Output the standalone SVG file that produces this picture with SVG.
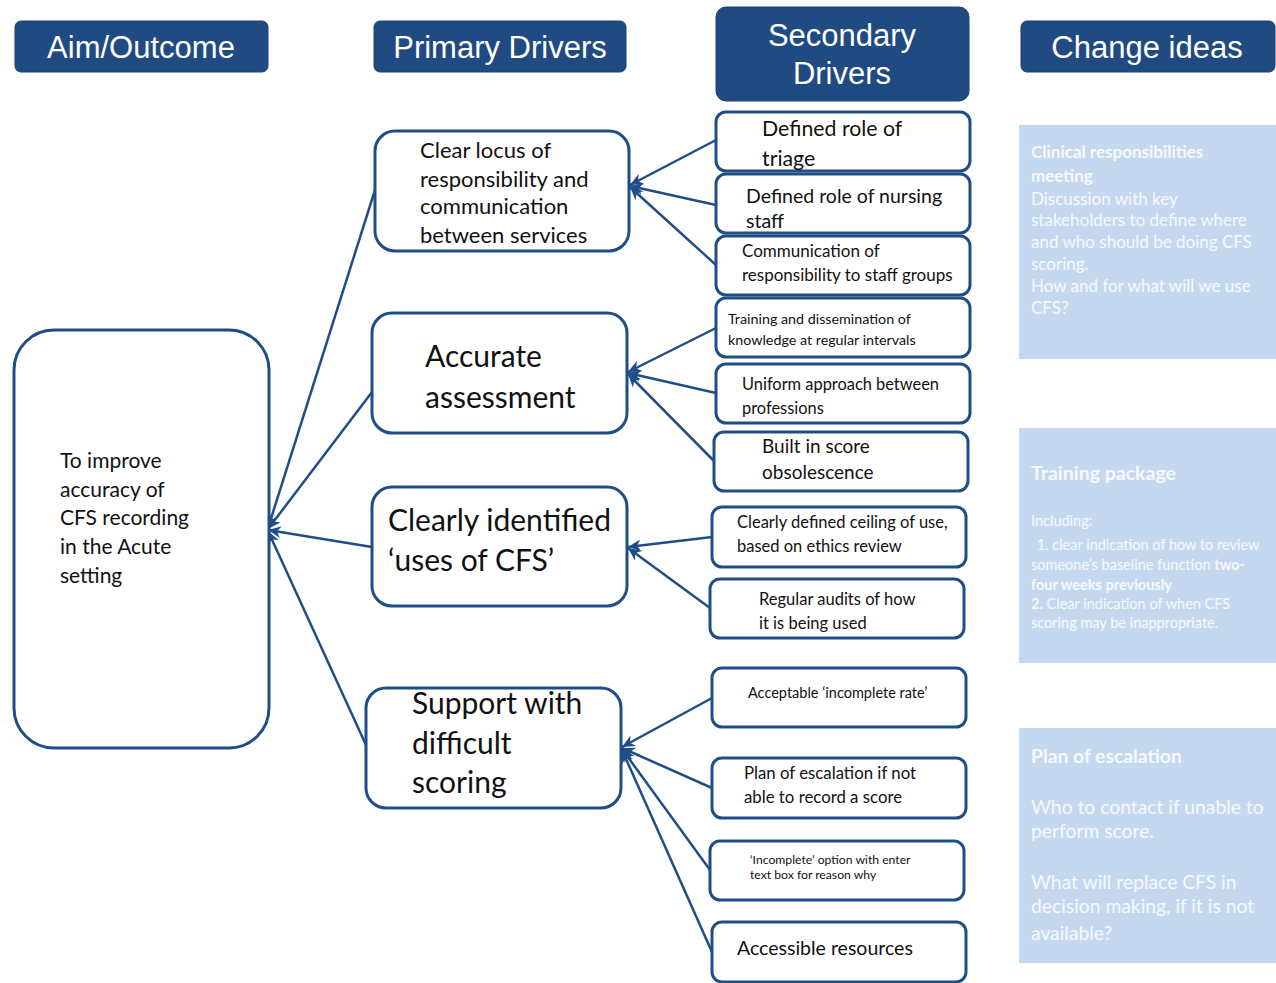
<svg xmlns="http://www.w3.org/2000/svg" width="1276" height="983" viewBox="0 0 1276 983">
<defs>
<style>
.hdr{fill:#1f4a82;stroke:#1a4070;stroke-width:1}
.ht{fill:#fff;font-family:"Liberation Sans",Arial,sans-serif;font-size:31px;text-anchor:middle}
.box{fill:#fff;stroke:#1f4e87;stroke-width:3}
.t{fill:#111;font-family:Lato,"Open Sans",sans-serif}
.ci{fill:#c6d8f0}
.cit{fill:#f5f8fd;font-family:Lato,"Open Sans",sans-serif}
.b{font-weight:bold}
.con{stroke:#1f4e87;stroke-width:2.5;fill:none;marker-end:url(#ah)}
</style>
<marker id="ah" markerUnits="userSpaceOnUse" markerWidth="14" markerHeight="14" refX="13" refY="7" orient="auto">
<path d="M0,1 L13,7 L0,13 L4,7 z" fill="#1f4e87"/>
</marker>
</defs>
<rect width="1276" height="983" fill="#fff"/>

<g id="hdr-aim"><rect class="hdr" x="15" y="21" width="253" height="51" rx="6"/><text class="ht" x="141" y="58">Aim/Outcome</text></g>
<g id="hdr-primary"><rect class="hdr" x="374" y="21" width="252" height="51" rx="6"/><text class="ht" x="500" y="58">Primary Drivers</text></g>
<g id="hdr-secondary"><rect class="hdr" x="716" y="7" width="253" height="94" rx="10"/><text class="ht" x="842" y="46">Secondary</text><text class="ht" x="842" y="84">Drivers</text></g>
<g id="hdr-change"><rect class="hdr" x="1021" y="21" width="254" height="51" rx="6"/><text class="ht" x="1147" y="58">Change ideas</text></g>

<g id="connectors">
<line class="con" x1="375" y1="190" x2="268" y2="528"/>
<line class="con" x1="372" y1="392" x2="268" y2="529"/>
<line class="con" x1="372" y1="547" x2="268" y2="530"/>
<line class="con" x1="366" y1="745" x2="268" y2="531"/>
<line class="con" x1="716" y1="140" x2="630" y2="185"/>
<line class="con" x1="716" y1="205" x2="630" y2="186"/>
<line class="con" x1="716" y1="265" x2="630" y2="187"/>
<line class="con" x1="716" y1="328" x2="628" y2="372"/>
<line class="con" x1="716" y1="393" x2="628" y2="373"/>
<line class="con" x1="714" y1="461" x2="628" y2="374"/>
<line class="con" x1="712" y1="537" x2="628" y2="547"/>
<line class="con" x1="710" y1="608" x2="628" y2="548"/>
<line class="con" x1="712" y1="698" x2="622" y2="747"/>
<line class="con" x1="712" y1="788" x2="622" y2="748"/>
<line class="con" x1="710" y1="870" x2="622" y2="749"/>
<line class="con" x1="712" y1="952" x2="622" y2="750"/>
</g>

<g id="aim"><rect class="box" x="14" y="330" width="255" height="418" rx="40"/>
<text class="t" font-size="21"><tspan x="60" y="468">To improve</tspan><tspan x="60" y="497">accuracy of</tspan><tspan x="60" y="525">CFS recording</tspan><tspan x="60" y="554">in the Acute</tspan><tspan x="60" y="583">setting</tspan></text></g>

<g id="p1"><rect class="box" x="375" y="131" width="254" height="120" rx="20"/>
<text class="t" font-size="22"><tspan x="420" y="158">Clear locus of</tspan><tspan x="420" y="187">responsibility and</tspan><tspan x="420" y="214">communication</tspan><tspan x="420" y="243">between services</tspan></text></g>
<g id="p2"><rect class="box" x="372" y="313" width="255" height="120" rx="20"/>
<text class="t" font-size="30"><tspan x="425" y="367">Accurate</tspan><tspan x="425" y="408">assessment</tspan></text></g>
<g id="p3"><rect class="box" x="372" y="487" width="255" height="119" rx="20"/>
<text class="t" font-size="30"><tspan x="388" y="531">Clearly identified</tspan><tspan x="388" y="571">‘uses of CFS’</tspan></text></g>
<g id="p4"><rect class="box" x="366" y="688" width="255" height="120" rx="20"/>
<text class="t" font-size="30"><tspan x="412" y="714">Support with</tspan><tspan x="412" y="754">difficult</tspan><tspan x="412" y="793">scoring</tspan></text></g>

<g id="s1"><rect class="box" x="716" y="112" width="254" height="59" rx="10"/>
<text class="t" font-size="21.3"><tspan x="762" y="136">Defined role of</tspan><tspan x="762" y="166">triage</tspan></text></g>
<g id="s2"><rect class="box" x="716" y="174" width="254" height="59" rx="10"/>
<text class="t" font-size="19.5"><tspan x="746" y="203">Defined role of nursing</tspan><tspan x="746" y="228">staff</tspan></text></g>
<g id="s3"><rect class="box" x="716" y="236" width="254" height="59" rx="10"/>
<text class="t" font-size="17"><tspan x="742" y="257">Communication of</tspan><tspan x="742" y="281">responsibility to staff groups</tspan></text></g>
<g id="s4"><rect class="box" x="716" y="298" width="254" height="59" rx="10"/>
<text class="t" font-size="14.3"><tspan x="728" y="324">Training and dissemination of</tspan><tspan x="728" y="345">knowledge at regular intervals</tspan></text></g>
<g id="s5"><rect class="box" x="716" y="364" width="254" height="59" rx="10"/>
<text class="t" font-size="16.4"><tspan x="742" y="390">Uniform approach between</tspan><tspan x="742" y="414">professions</tspan></text></g>
<g id="s6"><rect class="box" x="714" y="432" width="254" height="59" rx="10"/>
<text class="t" font-size="19"><tspan x="762" y="453">Built in score</tspan><tspan x="762" y="479">obsolescence</tspan></text></g>
<g id="s7"><rect class="box" x="712" y="507" width="254" height="60" rx="10"/>
<text class="t" font-size="16.5"><tspan x="737" y="528">Clearly defined ceiling of use,</tspan><tspan x="737" y="552">based on ethics review</tspan></text></g>
<g id="s8"><rect class="box" x="710" y="579" width="254" height="59" rx="10"/>
<text class="t" font-size="16.5"><tspan x="759" y="605">Regular audits of how</tspan><tspan x="759" y="629">it is being used</tspan></text></g>
<g id="s9"><rect class="box" x="712" y="668" width="254" height="59" rx="10"/>
<text class="t" font-size="14.5"><tspan x="748" y="698">Acceptable ‘incomplete rate’</tspan></text></g>
<g id="s10"><rect class="box" x="712" y="758" width="254" height="60" rx="10"/>
<text class="t" font-size="16.8"><tspan x="744" y="779">Plan of escalation if not</tspan><tspan x="744" y="803">able to record a score</tspan></text></g>
<g id="s11"><rect class="box" x="710" y="841" width="254" height="59" rx="10"/>
<text class="t" font-size="12.2"><tspan x="750" y="864">‘Incomplete’ option with enter</tspan><tspan x="750" y="879">text box for reason why</tspan></text></g>
<g id="s12"><rect class="box" x="712" y="922" width="254" height="60" rx="10"/>
<text class="t" font-size="19.5"><tspan x="737" y="955">Accessible resources</tspan></text></g>

<g id="c1"><rect class="ci" x="1019" y="125" width="257" height="234"/>
<text class="cit" font-size="17"><tspan class="b" x="1031" y="158">Clinical responsibilities</tspan><tspan class="b" x="1031" y="182">meeting</tspan><tspan x="1031" y="205">Discussion with key</tspan><tspan x="1031" y="226">stakeholders to define where</tspan><tspan x="1031" y="248">and who should be doing CFS</tspan><tspan x="1031" y="270">scoring.</tspan><tspan x="1031" y="292">How and for what will we use</tspan><tspan x="1031" y="314">CFS?</tspan></text></g>
<g id="c2"><rect class="ci" x="1019" y="428" width="257" height="235"/>
<text class="cit"><tspan class="b" font-size="19.5" x="1031" y="480">Training package</tspan><tspan font-size="14.5" x="1031" y="526">Including:</tspan><tspan font-size="14.5" x="1033" y="550"> 1. clear indication of how to review</tspan><tspan font-size="14.5" x="1031" y="570">someone’s baseline function <tspan class="b">two-</tspan></tspan><tspan class="b" font-size="14.5" x="1031" y="590">four weeks previously</tspan><tspan font-size="14.5" x="1031" y="609"><tspan class="b">2.</tspan>  Clear indication of when CFS</tspan><tspan font-size="14.5" x="1031" y="628">scoring may be inappropriate.</tspan></text></g>
<g id="c3"><rect class="ci" x="1019" y="728" width="257" height="235"/>
<text class="cit" font-size="19.3"><tspan class="b" x="1031" y="763">Plan of escalation</tspan><tspan x="1031" y="814">Who to contact if unable to</tspan><tspan x="1031" y="838">perform score.</tspan><tspan x="1031" y="889">What will replace CFS in</tspan><tspan x="1031" y="913">decision making, if it is not</tspan><tspan x="1031" y="940">available?</tspan></text></g>
</svg>
